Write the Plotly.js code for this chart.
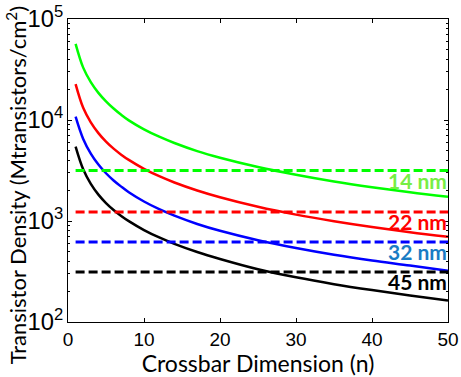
<!DOCTYPE html>
<html>
<head>
<meta charset="utf-8">
<script src="https://cdn.plot.ly/plotly-3.0.1.min.js"></script>
<style>html,body{margin:0;padding:0;background:#fff;}#chart{width:461px;height:377px;}</style>
</head>
<body>
<div id="chart"></div>
<script>
// Crossbar dimension n
const xN = [1, 2, 3, 4, 5, 6, 7, 8, 10, 12, 14, 17, 20, 25, 30, 35, 40, 45, 50];
// Crossbar transistor density curves (Mtransistors/cm^2)
const crossbar14 = [56800, 33000, 23700, 18560, 15290, 12980, 11250, 9910, 8080, 6830, 5920, 4920, 4230, 3425, 2870, 2462, 2159, 1922, 1733];
const crossbar22 = [22700, 13200, 9470, 7415, 6110, 5205, 4540, 4025, 3285, 2777, 2406, 2005, 1718, 1383, 1156, 994, 871, 775, 698];
const crossbar32 = [10800, 6500, 4650, 3620, 2970, 2520, 2190, 1925, 1560, 1310, 1130, 935, 800, 645, 540, 463, 406, 362, 321];
const crossbar45 = [5460, 3250, 2331, 1825, 1507, 1286, 1123, 997, 814, 687, 594, 493, 421, 333, 277, 237, 207, 183, 163];
// CMOS reference densities (dashed lines)
const nodeLabels = ["14 nm", "22 nm", "32 nm", "45 nm"];
const cmosDensity = [3160, 1230, 620, 313];
const lineColors = ["#00ff00", "#ff0000", "#0000ff", "#000000"];
const labelColors = ["#77ee44", "#ff0000", "#1a7cc4", "#000000"];
const xRange = [1, 50];
const xTitle = 'Crossbar Dimension (n)';
const yTitle = 'Transistor Density (Mtransistors/cm<sup>2</sup>)';

const curves = [crossbar14, crossbar22, crossbar32, crossbar45];
const traces = [];
curves.forEach((c, i) => {
  traces.push({x: xN, y: c, mode: 'lines', line: {color: lineColors[i], width: 2.5, shape: 'spline', smoothing: 1}, hoverinfo: 'skip'});
});
cmosDensity.forEach((d, i) => {
  traces.push({x: xRange, y: [d, d], mode: 'lines', line: {color: lineColors[i], width: 3, dash: '9px,4px'}, hoverinfo: 'skip'});
});

const annotations = nodeLabels.map((t, i) => ({
  x: 50, y: Math.log10(cmosDensity[i]), xref: 'x', yref: 'y',
  text: '<b>' + t + '</b>', showarrow: false, xanchor: 'right', yanchor: 'top',
  yshift: 5, xshift: 1,
  font: {family: 'Lato, "Open Sans", sans-serif', size: 21, color: labelColors[i]}
}));
annotations.push({
  text: yTitle, xref: 'paper', yref: 'paper', x: -0.135, y: 0.45,
  xanchor: 'center', yanchor: 'middle', textangle: -90, showarrow: false,
  font: {family: 'Lato, "Open Sans", sans-serif', size: 22, color: '#000'}
});

const layout = {
  width: 461, height: 377,
  margin: {l: 68, r: 13, t: 19, b: 55},
  paper_bgcolor: '#fff', plot_bgcolor: '#fff',
  showlegend: false,
  font: {family: '"Liberation Sans", Arial, sans-serif', color: '#000'},
  xaxis: {
    range: [0, 50], tickvals: [0, 10, 20, 30, 40, 50],
    ticks: 'inside', ticklen: 4, tickwidth: 1, tickcolor: '#000',
    showline: true, linecolor: '#000', linewidth: 1, mirror: 'ticks',
    showgrid: false, zeroline: false,
    tickfont: {size: 19, family: '"Liberation Sans", Arial, sans-serif'},
    title: {text: xTitle, font: {family: 'Lato, "Open Sans", sans-serif', size: 23}, standoff: 3}
  },
  yaxis: {
    type: 'log', range: [2, 5], dtick: 1, exponentformat: 'power',
    ticks: 'inside', ticklen: 4, tickwidth: 1, tickcolor: '#000',
    minor: {ticks: 'inside', ticklen: 2, dtick: 'D1', tickcolor: '#000', showgrid: false},
    showline: true, linecolor: '#000', linewidth: 1, mirror: 'ticks',
    showgrid: false, zeroline: false,
    tickfont: {size: 19, family: '"Liberation Sans", Arial, sans-serif'}
  },
  annotations: annotations
};

Plotly.newPlot('chart', traces, layout, {displayModeBar: false, staticPlot: true});
</script>
</body>
</html>
